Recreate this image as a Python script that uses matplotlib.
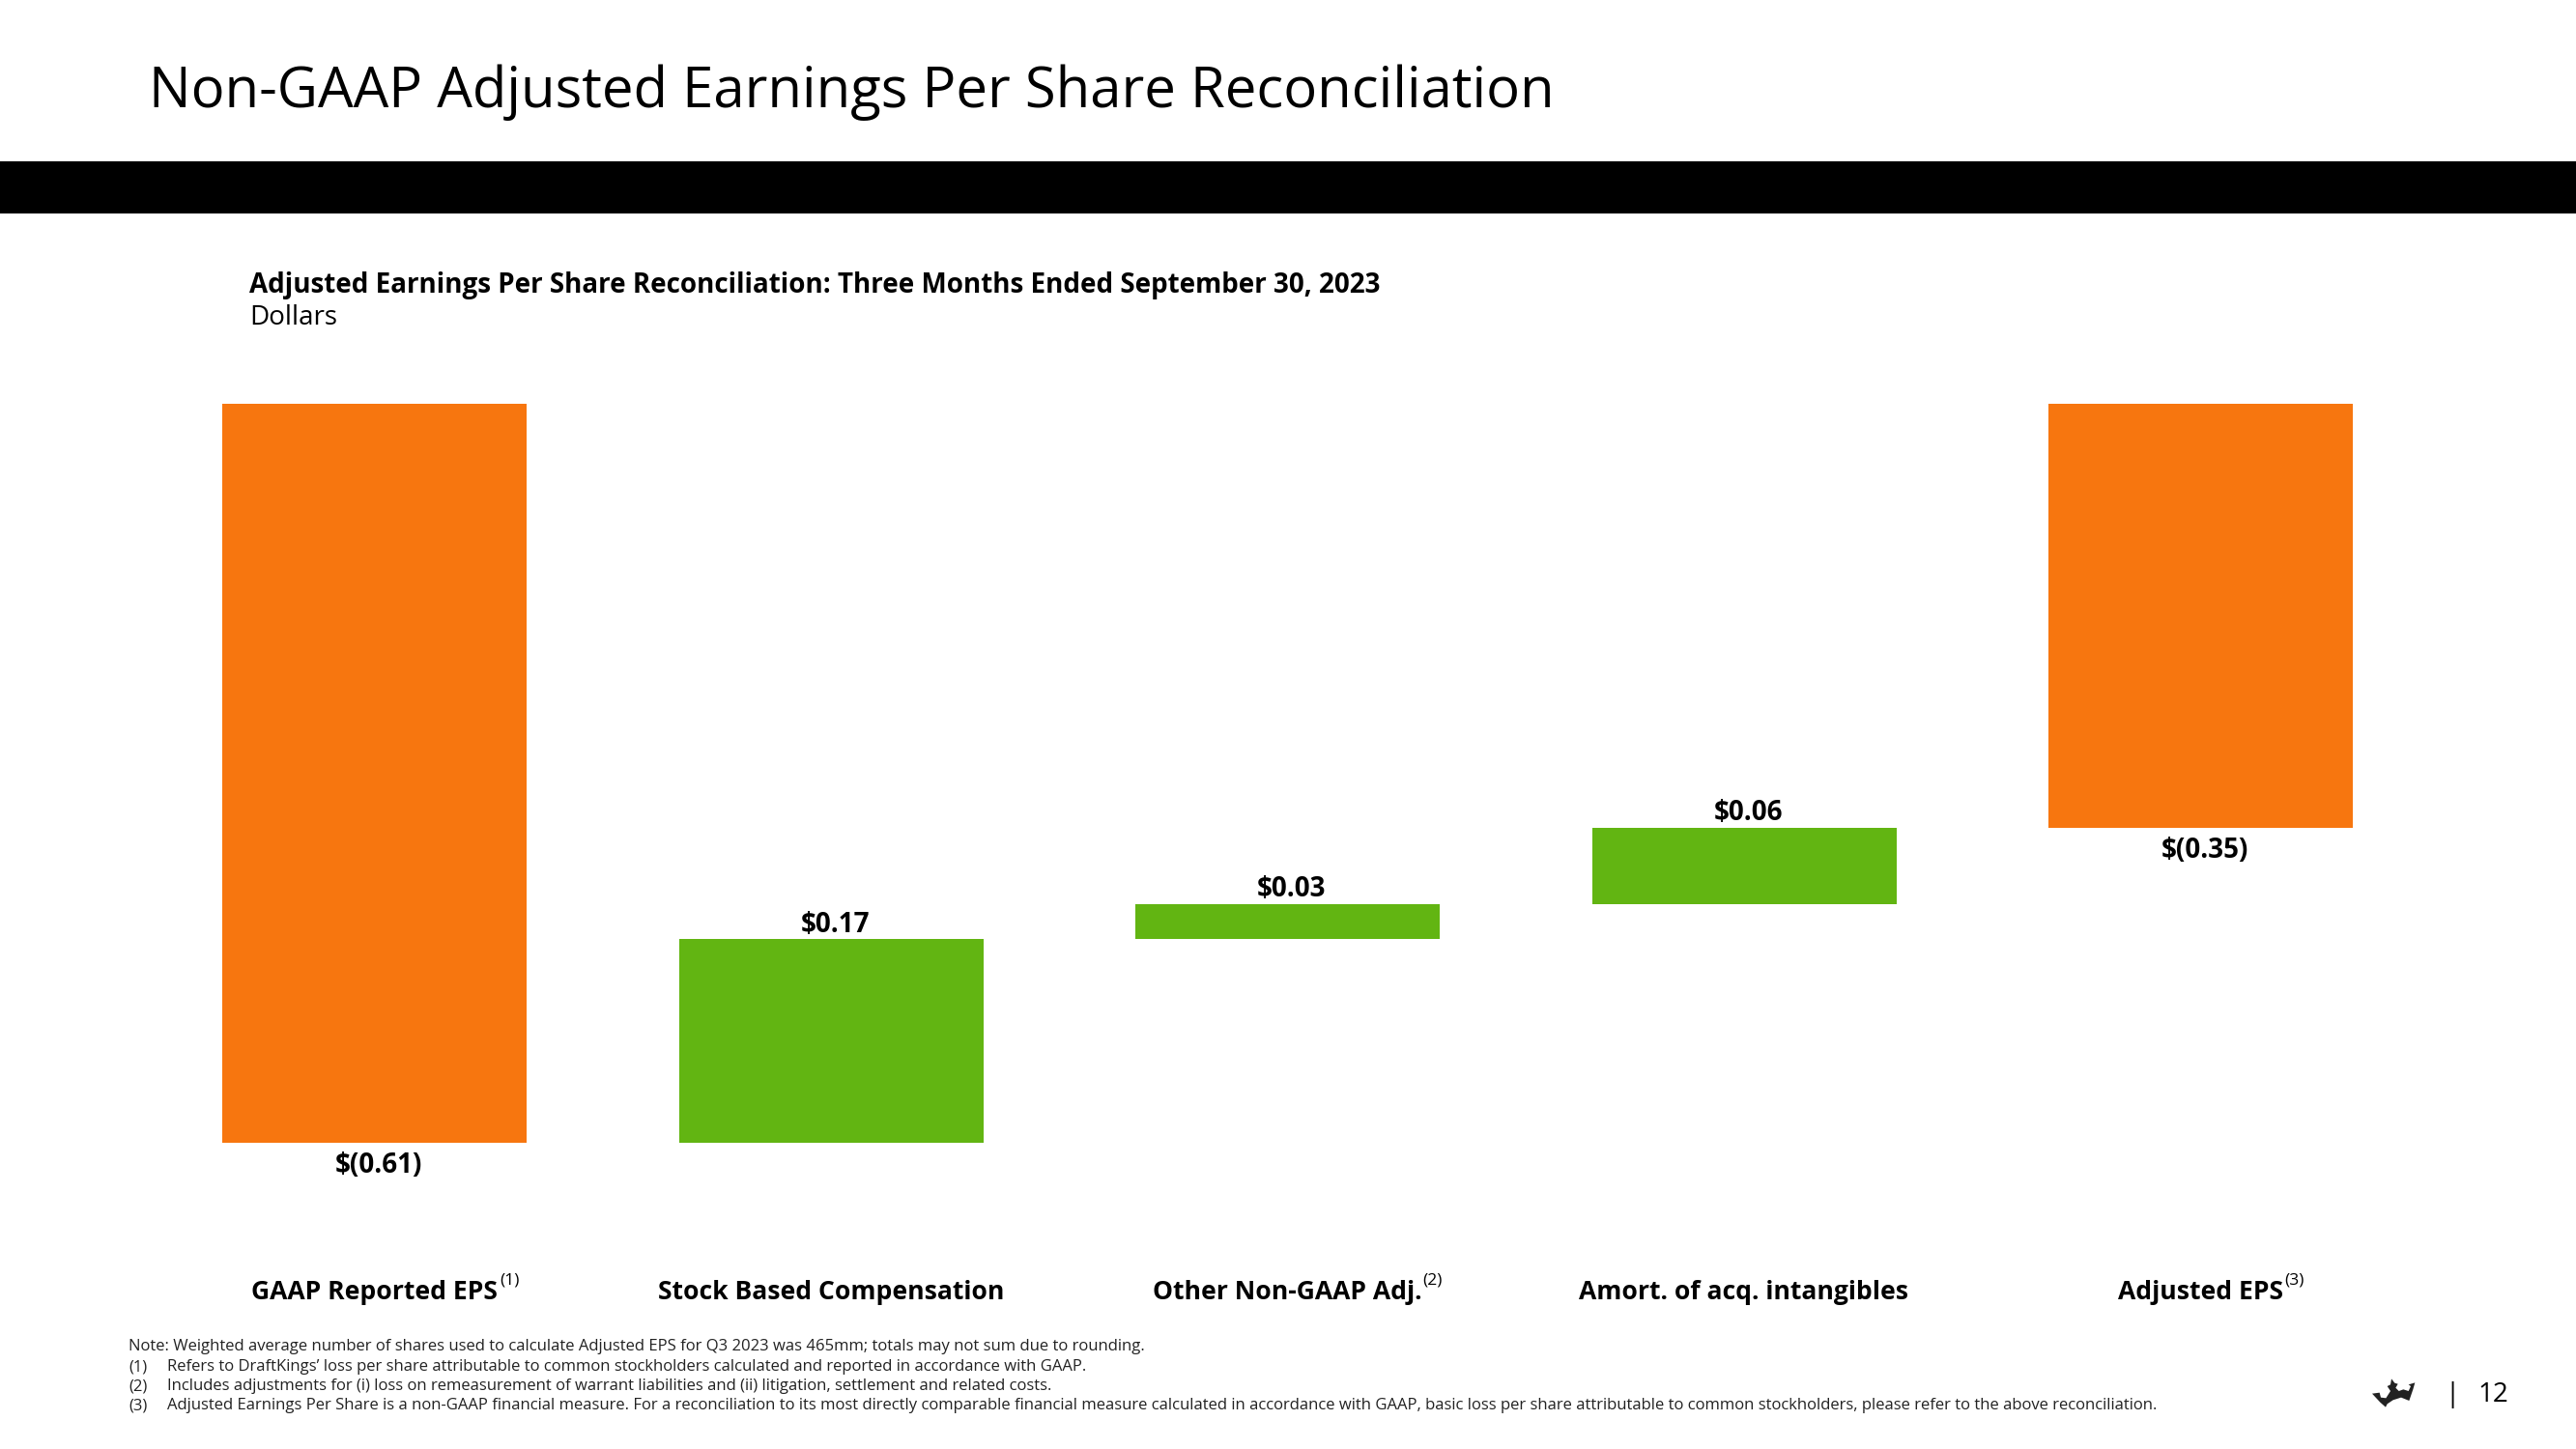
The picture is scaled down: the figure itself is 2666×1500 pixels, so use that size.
import matplotlib
matplotlib.use("Agg")
import matplotlib.pyplot as plt
from matplotlib.patches import Polygon, Rectangle

plt.rcParams['font.family'] = ['Open Sans', 'DejaVu Sans']

W, H = 2666, 1500

# data
categories = ["GAAP Reported EPS", "Stock Based Compensation", "Other Non-GAAP Adj.",
              "Amort. of acq. intangibles", "Adjusted EPS"]
values = [-0.61, 0.168, 0.029, 0.063, -0.35]
value_labels = ["$(0.61)", "$0.17", "$0.03", "$0.06", "$(0.35)"]
is_total = [True, False, False, False, True]
footnotes = [
    "Note: Weighted average number of shares used to calculate Adjusted EPS for Q3 2023 was 465mm; totals may not sum due to rounding.",
    "Refers to DraftKings\u2019 loss per share attributable to common stockholders calculated and reported in accordance with GAAP.",
    "Includes adjustments for (i) loss on remeasurement of warrant liabilities and (ii) litigation, settlement and related costs.",
    "Adjusted Earnings Per Share is a non-GAAP financial measure. For a reconciliation to its most directly comparable financial measure calculated in accordance with GAAP, basic loss per share attributable to common stockholders, please refer to the above reconciliation.",
]

ORANGE = "#F7760F"
GREEN = "#62B512"

fig = plt.figure(figsize=(W / 100, H / 100), dpi=100, facecolor="white")

# page layer, in pixels of the slide
page = fig.add_axes([0, 0, 1, 1])
page.set_xlim(0, W)
page.set_ylim(H, 0)
page.axis("off")

page.add_patch(Rectangle((0, 167), W, 54, color="black", lw=0))
page.text(154, 96, "Non-GAAP Adjusted Earnings Per Share Reconciliation",
          fontsize=41.8, va="center", color="black")
page.text(258, 295, "Adjusted Earnings Per Share Reconciliation: Three Months Ended September 30, 2023",
          fontsize=20, fontweight="bold", va="center", color="black")
page.text(258, 329, "Dollars", fontsize=20, va="center", color="black")

# chart: bar centres sit 472.5 px apart starting at 387.5 px
left_px, right_px = 72, 2445
ax = fig.add_axes([left_px / W, 1 - 1183 / H, (right_px - left_px) / W, (1183 - 418) / H])
ax.patch.set_alpha(0)
ax.set_xlim((left_px - 387.5) / 472.5, (right_px - 387.5) / 472.5)
ax.set_ylim(-0.61, 0)

running = 0.0
for i, v in enumerate(values):
    if is_total[i]:
        bottom, top = v, 0.0
        running = v
        color = ORANGE
    else:
        bottom, top = running, running + v
        running = top
        color = GREEN
    ax.bar(i, top - bottom, bottom=bottom, width=315 / 472.5, color=color, linewidth=0, zorder=2)
    if v < 0:
        ax.annotate(value_labels[i], (i, bottom), xytext=(3, -17), textcoords="offset points",
                    ha="center", va="center", fontsize=20, fontweight="bold", annotation_clip=False)
    else:
        ax.annotate(value_labels[i], (i, top), xytext=(3, 11), textcoords="offset points",
                    ha="center", va="center", fontsize=20, fontweight="bold", annotation_clip=False)

ax.set_xticks(range(len(categories)))
ax.set_xticklabels(categories, fontsize=19.1, fontweight="bold")
ax.tick_params(axis="x", length=0, pad=102.5)
ax.set_yticks([])
for s in ax.spines.values():
    s.set_visible(False)

# superscripts on the category labels
for x, mark in [(517, "(1)"), (1472, "(2)"), (2364, "(3)")]:
    page.text(x, 1326, mark, fontsize=12.5, va="center", color="black")

# footnotes
page.text(133, 1394, footnotes[0], fontsize=11.98, va="center", color="#222222")
for y, num, note in zip([1415, 1435, 1455], ["(1)", "(2)", "(3)"], footnotes[1:]):
    page.text(133, y, num, fontsize=11.98, va="center", color="#222222")
    page.text(173, y, note, fontsize=11.98, va="center", color="#222222")

# logo and page number
crown = [(165, 158), (188, 155), (192, 170), (208, 172), (222, 150), (212, 135), (222, 130),
         (225, 112), (235, 125), (245, 128), (238, 140), (248, 150), (262, 145), (278, 150),
         (285, 135), (278, 130), (298, 124), (292, 145), (280, 180), (255, 170), (230, 178),
         (212, 190), (207, 200), (190, 185)]
page.add_patch(Polygon([(2400 + x / 3, 1390 + y / 3) for x, y in crown], color="#222222", lw=0))
page.text(2538, 1444, "|", fontsize=20, ha="center", va="center", color="black")
page.text(2580, 1444, "12", fontsize=20, ha="center", va="center", color="black")

fig.savefig("out.png", dpi=100)
